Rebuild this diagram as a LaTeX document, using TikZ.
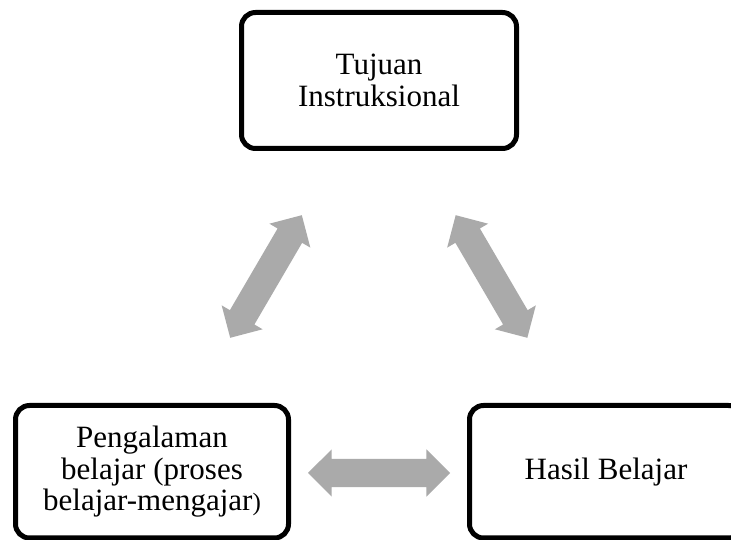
\documentclass[tikz,border=0pt]{standalone}
\usepackage{fontspec}
\setmainfont{Liberation Serif}
\usetikzlibrary{shapes.arrows}
\definecolor{arrowgray}{RGB}{170,170,170}
\tikzset{
  box/.style={draw=black, line width=5pt, rounded corners=14pt, fill=white,
    inner sep=0pt, align=center, font=\fontsize{31}{32.5}\selectfont},
  dblarrow/.style={double arrow, fill=arrowgray, draw=none, inner xsep=0pt,
    inner ysep=14pt, minimum height=142pt, minimum width=47pt,
    double arrow head extend=9.5pt, double arrow tip angle=90}
}
\begin{document}
\begin{tikzpicture}[x=1pt,y=1pt]
\useasboundingbox (0,0) rectangle (731,540);
\clip (0,0) rectangle (731,540);
\fill[white] (0,0) rectangle (731,540);
% boxes
\node[box, minimum width=275pt, minimum height=136pt] (tujuan) at (379,459.5)
  {Tujuan\\Instruksional};
\node[box, minimum width=273pt, minimum height=132.5pt,
  font=\fontsize{31}{31.5}\selectfont] (pengalaman) at (152,68.25)
  {Pengalaman\\belajar (proses\\belajar-mengajar{\fontsize{25}{25}\selectfont)}};
\node[box, minimum width=273pt, minimum height=132.5pt] (hasil) at (606,68.25)
  {Hasil Belajar};
% arrows
\node[dblarrow] (ah) at (379,67) {};
\node[dblarrow, rotate=59.7] (al) at (266,263.5) {};
\node[dblarrow, rotate=-59.7] (ar) at (491.5,263.5) {};
\end{tikzpicture}
\end{document}
